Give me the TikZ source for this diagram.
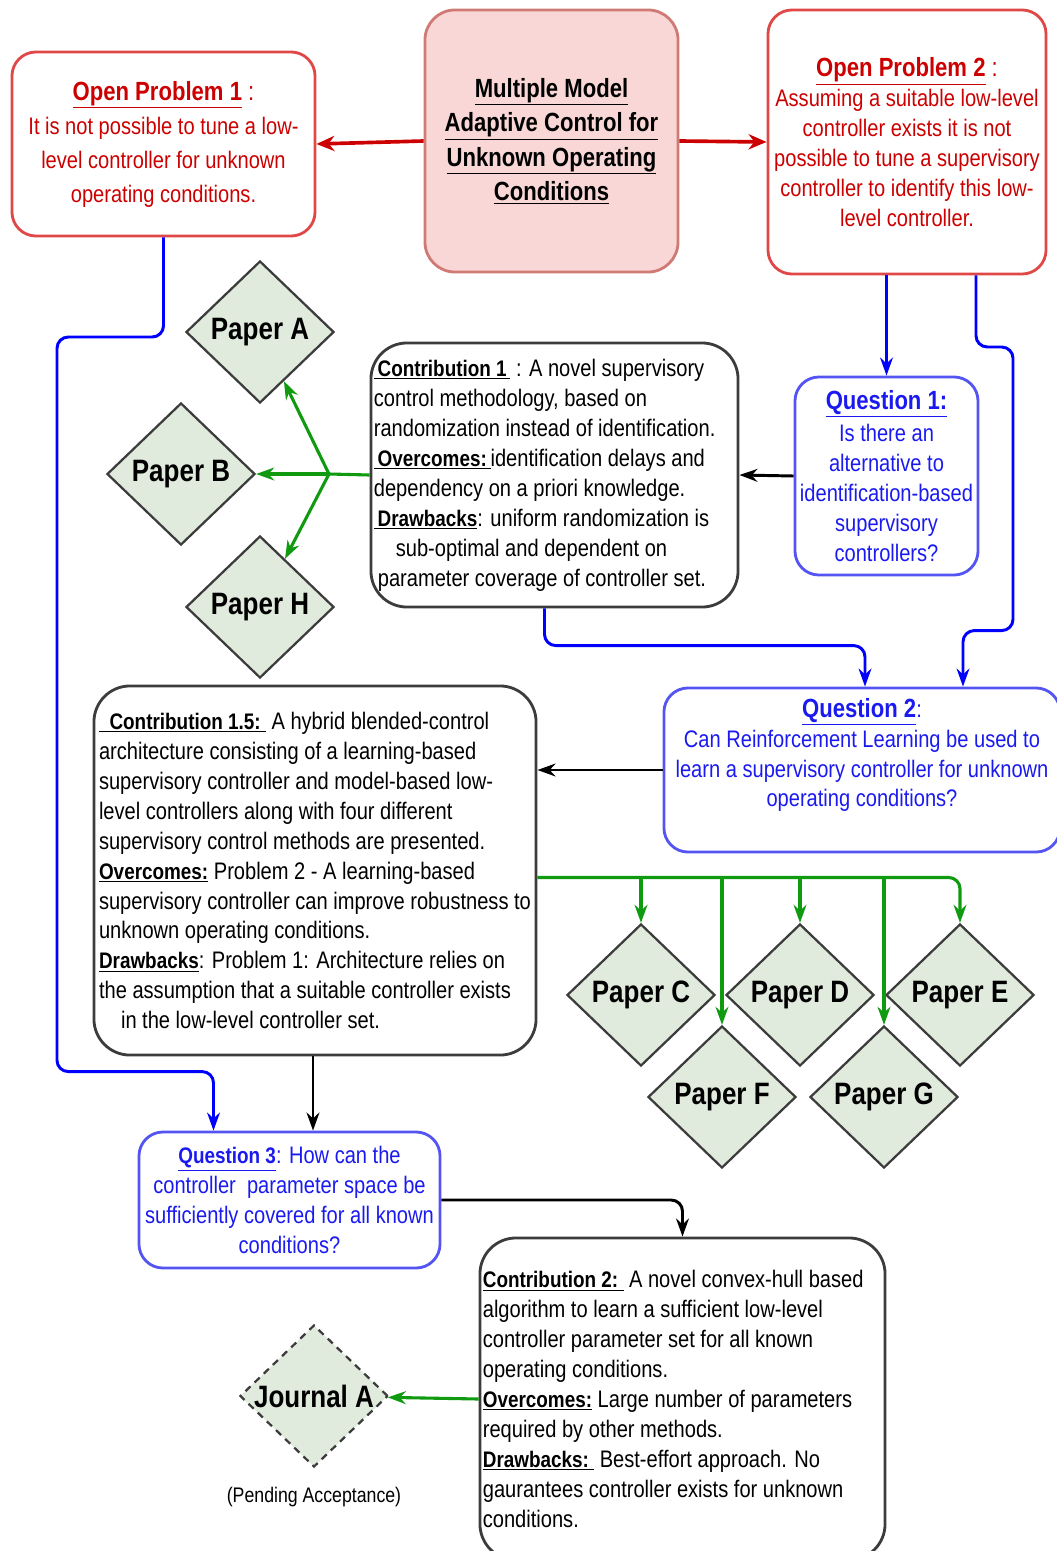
\documentclass[tikz,border=0pt]{standalone}
\usepackage{fontspec}
\setmainfont{Liberation Sans}[FakeStretch=0.84]
\usetikzlibrary{arrows.meta,positioning,shapes.geometric,calc}
\definecolor{mmpink}{HTML}{F8D7D6}
\definecolor{mmborder}{HTML}{D07A76}
\definecolor{opred}{HTML}{CC0000}
\definecolor{opborder}{HTML}{E04848}
\definecolor{qblue}{HTML}{1A1AF0}
\definecolor{qborder}{HTML}{5454F2}
\definecolor{cgray}{HTML}{3C3C3C}
\definecolor{pgreen}{HTML}{E1EBDD}
\definecolor{lnblue}{HTML}{0000FF}
\definecolor{lngreen}{HTML}{109A10}

\newcommand{\bodysize}{\fontsize{17}{21.3}\selectfont}
\newcommand{\titlesize}{\fontsize{18.7}{24.5}\selectfont}
\newcommand{\hd}[1]{\underline{\textbf{#1}}}
\newcommand{\ch}[1]{{\fontsize{16}{21.3}\selectfont\underline{\textbf{#1}}}}

\begin{document}
\begin{tikzpicture}[x=0.025cm, y=-0.025cm,
    mainbox/.style={draw=mmborder, fill=mmpink, line width=2pt, rounded corners=0.75cm, align=center, inner sep=0pt, font=\titlesize},
    opbox/.style={draw=opborder, line width=2pt, rounded corners=0.6cm, align=center, inner sep=0pt, text=opred, font=\bodysize},
    qbox/.style={draw=qborder, line width=2pt, rounded corners=0.6cm, align=center, inner sep=0pt, text=qblue, font=\bodysize},
    cbox/.style={draw=cgray, line width=2pt, rounded corners=0.9cm, align=flush left, inner xsep=0.07cm, inner ysep=0pt, font=\bodysize},
    paper/.style={diamond, draw=cgray, fill=pgreen, line width=1.6pt, minimum width=3.7cm, minimum height=3.55cm, inner sep=0pt, font=\fontsize{22}{26}\selectfont\bfseries},
    redarrow/.style={draw=opred, line width=2.6pt, -{Stealth[length=4.5mm, width=3.8mm]}},
    bluearrow/.style={draw=lnblue, line width=2.1pt, rounded corners=8pt, -{Stealth[length=4.5mm, width=3.2mm]}},
    greenarrow/.style={draw=lngreen, line width=2.2pt, rounded corners=8pt, -{Stealth[length=4.5mm, width=3.2mm]}},
    blackarrow/.style={draw=black, line width=2.1pt, rounded corners=8pt, -{Stealth[length=4.5mm, width=3.2mm]}}
  ]
  \useasboundingbox (0,0) rectangle (1057,1551);

  % Nodes
  \node[mainbox, minimum width=6.325cm, minimum height=6.55cm] (main) at (551.5,141)
    {\hd{Multiple Model}\\ \hd{Adaptive Control for}\\ \hd{Unknown Operating}\\ \hd{Conditions}};
  \node[opbox, minimum width=7.575cm, minimum height=4.6cm, font=\fontsize{17}{24.2}\selectfont] (op1) at (163.5,144)
    {{\titlesize\hd{Open Problem 1} :}\\ It is not possible to tune a low-\\ level controller for unknown\\ operating conditions.};
  \node[opbox, minimum width=6.95cm, minimum height=6.6cm] (op2) at (907,142)
    {{\titlesize\hd{Open Problem 2} :}\\ Assuming a suitable low-level\\ controller exists it is not\\ possible to tune a supervisory\\ controller to identify this low-\\ level controller.};
  \node[qbox, minimum width=4.575cm, minimum height=4.95cm] (q1) at (886.5,476)
    {{\titlesize\hd{Question 1:}}\\[2pt] Is there an\\ alternative to\\ identification-based\\ supervisory\\ controllers?};
  \node[cbox, text width=9.03cm, minimum width=9.175cm, minimum height=6.6cm] (c1) at (554.5,475)
    {\ch{\,Contribution 1\,} : A novel supervisory\\
     control methodology, based on\\
     randomization instead of identification.\\
     \ch{\,Overcomes:\,}identification delays and\\
     dependency on a priori knowledge.\\
     \ch{\,Drawbacks}: uniform randomization is\\
     \hspace{0.55cm}sub-optimal and dependent on\\
     \hspace{0.1cm}parameter coverage of controller set.};
  \node[paper] (pa) at (260,332) {Paper A};
  \node[paper] (pb) at (181,474) {Paper B};
  \node[paper] (ph) at (260,607) {Paper H};

  \node[qbox, minimum width=9.9cm, minimum height=4.1cm] (q2) at (862,770) {};
  \node[align=center, text=qblue, font=\bodysize, inner sep=0pt] (q2txt) at (862,755)
    {{\titlesize\hd{Question 2}}:\\ Can Reinforcement Learning be used to\\ learn a supervisory controller for unknown\\ operating conditions?};
  \node[cbox, align=left, minimum width=11.05cm, minimum height=9.225cm] (c15) at (315,870.5)
    {\ch{\ \ Contribution 1.5:\ } A hybrid blended-control\\
     architecture consisting of a learning-based\\
     supervisory controller and model-based low-\\
     level controllers along with four different\\
     supervisory control methods are presented.\\
     \ch{Overcomes:} Problem 2 - A learning-based\\
     supervisory controller can improve robustness to\\
     unknown operating conditions.\\
     \ch{Drawbacks}: Problem 1: Architecture relies on\\
     the assumption that a suitable controller exists\\
     \hspace{0.55cm}in the low-level controller set.};
  \node[paper] (pc) at (641,995) {Paper C};
  \node[paper] (pd) at (800,995) {Paper D};
  \node[paper] (pe) at (960,995) {Paper E};
  \node[paper] (pf) at (722,1097) {Paper F};
  \node[paper] (pg) at (884,1097) {Paper G};

  \node[qbox, minimum width=7.525cm, minimum height=3.4cm] (q3) at (289.5,1200)
    {\ch{Question 3}: How can the\\ controller~ parameter space be\\ sufficiently covered for all known\\ conditions?};
  \node[cbox, text width=9.98cm, minimum width=10.125cm, minimum height=8.05cm] (c2) at (682.5,1399)
    {\ch{Contribution 2:\ } A novel convex-hull based\\
     algorithm to learn a sufficient low-level\\
     controller parameter set for all known\\
     operating conditions.\\
     \ch{Overcomes:} Large number of parameters\\
     required by other methods.\\
     \ch{Drawbacks:\ } Best-effort approach. No\\
     gaurantees controller exists for unknown\\
     conditions.};
  \node[paper, dash pattern=on 5pt off 4pt] (ja) at (314,1396) {\makebox[0pt]{Journal A}};
  \node[below=0.35cm of ja, font=\fontsize{15}{18}\selectfont] (pending) {(Pending Acceptance)};

  % Arrows
  \draw[redarrow] (main.west) -- (op1.east);
  \draw[redarrow] (main.east) -- (op2.west);
  \draw[bluearrow] (op2.south -| q1.north) -- (q1.north);
  \draw[bluearrow] ($(op2.south)+(69,0)$) |- (1013,347) |- ($(q2.north)+(101,-56)$) -- ($(q2.north)+(101,0)$);
  \draw[blackarrow] (q1.west) -- (c1.east);

  \coordinate (fork) at (329,474);
  \draw[draw=lngreen, line width=2.2pt] (c1.west) -- (fork);
  \foreach \p in {pa,pb,ph}
    \draw[greenarrow] (fork) -- (\p);

  \draw[bluearrow] ($(c1.south)+(-10,0)$) |- ($(q2.north)+(3,-41)$) -- ($(q2.north)+(3,0)$);
  \draw[bluearrow] (op1.south) |- (57,337) |- ($(q3.north)+(-76,-59)$) -- ($(q3.north)+(-76,0)$);

  \draw[blackarrow] (q2.west) -- (q2.west -| c15.east);
  \coordinate (gbus) at ($(c15.east)+(0,7)$);
  \draw[greenarrow] (gbus) -| (pe.north);
  \foreach \p in {pc,pd,pf,pg}
    \draw[greenarrow] (gbus -| \p.north) -- (\p.north);

  \draw[blackarrow] (c15.south -| 313,0) -- (q3.north -| 313,0);
  \draw[blackarrow] (q3.east) -| (c2.north);
  \draw[greenarrow] (c2.west) -- (ja);
\end{tikzpicture}
\end{document}
